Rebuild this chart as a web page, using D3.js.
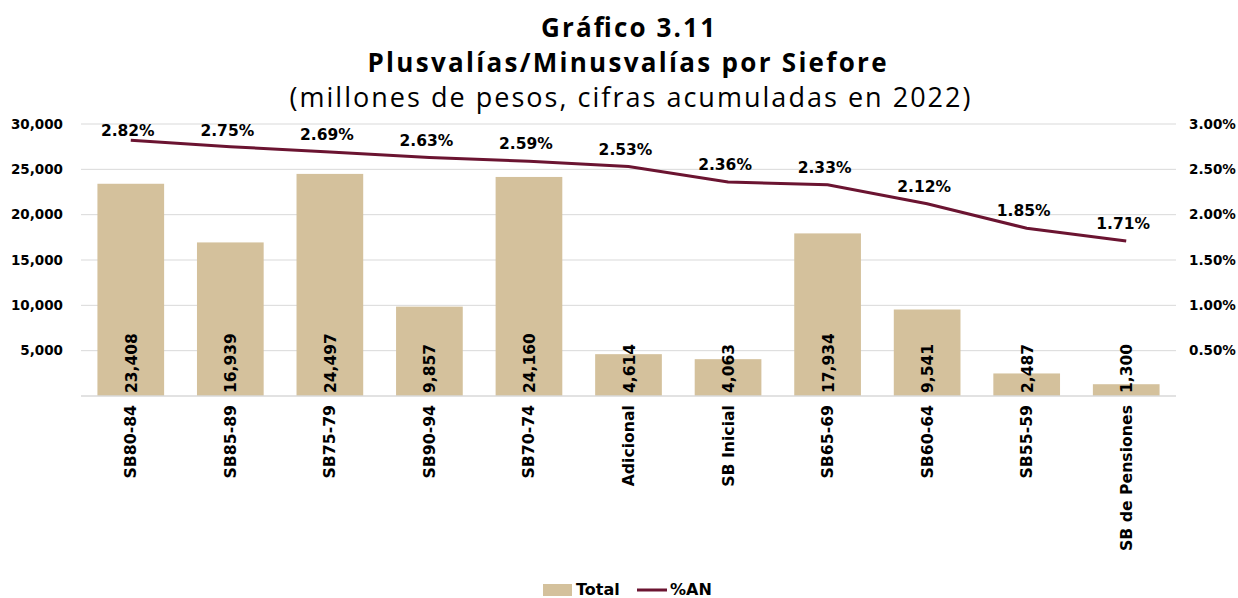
<!DOCTYPE html>
<html>
<head>
<meta charset="utf-8">
<script src="https://cdn.jsdelivr.net/npm/d3@7"></script>
<style>
  body { margin: 0; background: #fff; }
  text { font-family: "DejaVu Sans", sans-serif; }
  .ttl { font-family: "Open Sans", "DejaVu Sans", sans-serif; }
</style>
</head>
<body>
<script>
// data
var categories = ["SB80-84", "SB85-89", "SB75-79", "SB90-94", "SB70-74", "Adicional",
  "SB Inicial", "SB65-69", "SB60-64", "SB55-59", "SB de Pensiones"];
var totals = [23408, 16939, 24497, 9857, 24160, 4614, 4063, 17934, 9541, 2487, 1300];
var pctAN = [2.82, 2.75, 2.69, 2.63, 2.59, 2.53, 2.36, 2.33, 2.12, 1.85, 1.71];
var leftTicks = [5000, 10000, 15000, 20000, 25000, 30000];
var rightTicks = [0.5, 1.0, 1.5, 2.0, 2.5, 3.0];

var W = 1238, H = 598;
var margin = {top: 124, right: 62, bottom: 202, left: 81},
    width = W - margin.left - margin.right,
    height = H - margin.top - margin.bottom;

var svg = d3.select("body").append("svg")
    .attr("width", W)
    .attr("height", H);

// titles
svg.append("text").attr("class", "ttl").attr("x", 628).attr("y", 37)
    .attr("text-anchor", "middle").style("font-weight", "bold").style("font-size", "26px")
    .attr("textLength", 174).attr("lengthAdjust", "spacing")
    .text("Gráfico 3.11");
svg.append("text").attr("class", "ttl").attr("x", 627).attr("y", 72)
    .attr("text-anchor", "middle").style("font-weight", "bold").style("font-size", "26px")
    .attr("textLength", 519).attr("lengthAdjust", "spacing")
    .text("Plusvalías/Minusvalías por Siefore");
svg.append("text").attr("class", "ttl").attr("x", 630).attr("y", 107)
    .attr("text-anchor", "middle").style("font-size", "27px")
    .attr("textLength", 681).attr("lengthAdjust", "spacing")
    .text("(millones de pesos, cifras acumuladas en 2022)");

var g = svg.append("g")
    .attr("transform", "translate(" + margin.left + "," + margin.top + ")");

var x = d3.scaleBand().domain(categories).range([0, width]).paddingInner(0.33).paddingOuter(0.165);
var y = d3.scaleLinear().domain([0, 30000]).range([height, 0]);
var y2 = d3.scaleLinear().domain([0, 3]).range([height, 0]);

// gridlines
g.append("g").selectAll("line").data(leftTicks).enter().append("line")
    .attr("x1", 0).attr("x2", width)
    .attr("y1", function(d) { return y(d); }).attr("y2", function(d) { return y(d); })
    .attr("stroke", "#d9d9d9").attr("stroke-width", 1);

// left axis
var yAxis = g.append("g")
    .call(d3.axisLeft(y).tickValues(leftTicks).tickSize(0).tickPadding(18)
      .tickFormat(d3.format(",")));
yAxis.select(".domain").remove();
yAxis.selectAll("text").style("font-family", "DejaVu Sans").style("font-size", "13.5px")
    .style("font-weight", "bold").attr("fill", "#000");

// right axis
var yAxis2 = g.append("g").attr("transform", "translate(" + width + ",0)")
    .call(d3.axisRight(y2).tickValues(rightTicks).tickSize(0).tickPadding(13)
      .tickFormat(function(d) { return d.toFixed(2) + "%"; }));
yAxis2.select(".domain").remove();
yAxis2.selectAll("text").style("font-family", "DejaVu Sans").style("font-size", "13.5px")
    .style("font-weight", "bold").attr("fill", "#000");

// bars
g.selectAll(".bar").data(totals).enter().append("rect")
    .attr("class", "bar")
    .attr("x", function(d, i) { return x(categories[i]); })
    .attr("width", x.bandwidth())
    .attr("y", function(d) { return y(d); })
    .attr("height", function(d) { return height - y(d); })
    .attr("fill", "#d4c19c");

// baseline
g.append("line").attr("x1", 0).attr("x2", width).attr("y1", height).attr("y2", height)
    .attr("stroke", "#d9d9d9").attr("stroke-width", 1.5);

// bar labels
g.selectAll(".blabel").data(totals).enter().append("text")
    .attr("class", "blabel")
    .attr("transform", function(d, i) {
      return "translate(" + (x(categories[i]) + x.bandwidth() / 2 + 6) + "," + (height - 3) + ") rotate(-90)";
    })
    .style("font-size", "15.5px").style("font-weight", "bold")
    .text(function(d) { return d3.format(",")(d); });

// x labels
var xAxis = g.append("g").attr("transform", "translate(0," + height + ")")
    .call(d3.axisBottom(x).tickSize(0));
xAxis.select(".domain").remove();
xAxis.selectAll("text")
    .attr("transform", "rotate(-90)")
    .attr("x", -9).attr("y", 0).attr("dy", "0.35em")
    .style("text-anchor", "end")
    .style("font-family", "DejaVu Sans")
    .style("font-size", "15.7px").style("font-weight", "bold").attr("fill", "#000");

// line
var line = d3.line()
    .x(function(d, i) { return x(categories[i]) + x.bandwidth() / 2; })
    .y(function(d) { return y2(d); });
g.append("path").datum(pctAN)
    .attr("d", line)
    .attr("fill", "none").attr("stroke", "#6b1431").attr("stroke-width", 3);

// line labels
g.selectAll(".plabel").data(pctAN).enter().append("text")
    .attr("class", "plabel")
    .attr("x", function(d, i) { return x(categories[i]) + x.bandwidth() / 2 - 3; })
    .attr("y", function(d) { return Math.max(y2(3) + 6, y2(d) - 18) + 6; })
    .attr("text-anchor", "middle")
    .style("font-size", "15.5px").style("font-weight", "bold")
    .text(function(d) { return d.toFixed(2) + "%"; });

// legend
var lg = svg.append("g").attr("transform", "translate(543,589)");
lg.append("rect").attr("x", 0).attr("y", -5).attr("width", 29).attr("height", 12).attr("fill", "#d4c19c");
lg.append("text").attr("x", 33).attr("y", 6).style("font-size", "16px").style("font-weight", "bold").text("Total");
lg.append("line").attr("x1", 94).attr("x2", 124).attr("y1", 1).attr("y2", 1)
    .attr("stroke", "#6b1431").attr("stroke-width", 3);
lg.append("text").attr("x", 127).attr("y", 6).style("font-size", "16px").style("font-weight", "bold").text("%AN");
</script>
</body>
</html>
